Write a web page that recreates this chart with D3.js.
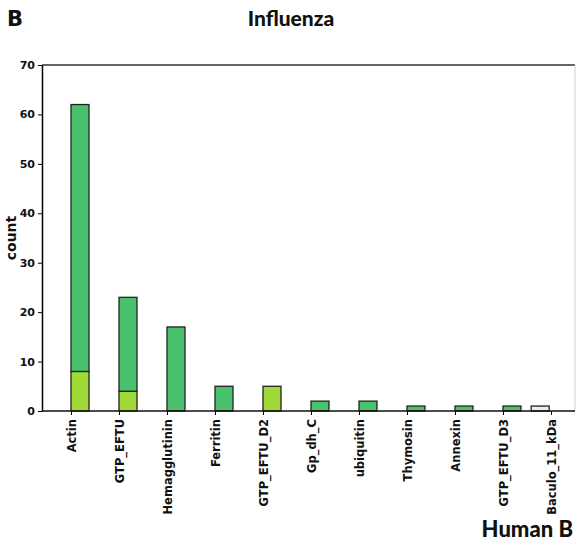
<!DOCTYPE html>
<html>
<head>
<meta charset="utf-8">
<script src="https://cdn.jsdelivr.net/npm/d3@7"></script>
<style>
  body { margin: 0; background: white; }
  svg text { fill: #111; }
</style>
</head>
<body>
<div id="chart"></div>
<script>
// categories along x
const categories = ["Actin", "GTP_EFTU", "Hemagglutinin", "Ferritin", "GTP_EFTU_D2",
    "Gp_dh_C", "ubiquitin", "Thymosin", "Annexin", "GTP_EFTU_D3", "Baculo_11_kDa"];
// stacked series, bottom to top
const lightValues = [8, 4, 0, 0, 5, 0, 0, 0, 0, 0, 0];
const greenValues = [54, 19, 17, 5, 0, 2, 2, 1, 1, 1, 0];
const otherValues = [0, 0, 0, 0, 0, 0, 0, 0, 0, 0, 1];
const yTicks = [0, 10, 20, 30, 40, 50, 60, 70];

const width = 576, height = 544;
const margin = {left: 42, right: 1, top: 65, bottom: 133};

const series = [
    {name: "light", vals: lightValues, color: "#a0da39", shift: 0},
    {name: "green", vals: greenValues, color: "#4ac16d", shift: 0},
    {name: "other", vals: otherValues, color: "#ededed", shift: -1.1}
];

const svg = d3.select("#chart").append("svg")
    .attr("width", width).attr("height", height);

const x = d3.scalePoint()
    .domain(categories)
    .range([71, 551]);
const barW = 18;

const y = d3.scaleLinear()
    .domain([0, 70])
    .range([height - margin.bottom, margin.top]);

// stacking by hand so each series keeps its own offset
const base = categories.map(() => 0);
series.forEach(s => {
    svg.append("g").selectAll("rect")
        .data(s.vals.map((v, i) => ({cat: categories[i], v, y0: base[i]})))
        .join("rect")
        .filter(d => d.v > 0)
        .attr("x", d => x(d.cat) + s.shift * barW)
        .attr("y", d => y(d.y0 + d.v))
        .attr("width", barW)
        .attr("height", d => y(d.y0) - y(d.y0 + d.v))
        .attr("fill", s.color)
        .attr("stroke", "#222")
        .attr("stroke-width", 1.3);
    s.vals.forEach((v, i) => base[i] += v);
});

// frame
svg.append("line")
    .attr("x1", margin.left).attr("x2", width - margin.right)
    .attr("y1", margin.top).attr("y2", margin.top)
    .attr("stroke", "#333").attr("stroke-width", 1.5);
svg.append("line")
    .attr("x1", width - margin.right).attr("x2", width - margin.right)
    .attr("y1", margin.top).attr("y2", height - margin.bottom)
    .attr("stroke", "#ccc").attr("stroke-width", 1);

const xAxis = svg.append("g")
    .attr("transform", `translate(0,${height - margin.bottom})`)
    .call(d3.axisBottom(x).tickSize(4).tickPadding(5).tickSizeOuter(0));
xAxis.select(".domain").remove();
xAxis.append("line")
    .attr("x1", margin.left).attr("x2", width - margin.right)
    .attr("stroke", "#111").attr("stroke-width", 1.5);
xAxis.selectAll("text")
    .attr("transform", "rotate(-90)")
    .attr("text-anchor", "end")
    .attr("dx", 0).attr("dy", "0.35em")
    .attr("x", -8).attr("y", 0)
    .style("font-family", "DejaVu Sans").style("font-weight", "bold")
    .style("font-size", "11.5px");

const yAxis = svg.append("g")
    .attr("transform", `translate(${margin.left},0)`)
    .call(d3.axisLeft(y).tickValues(yTicks).tickSize(4).tickPadding(3).tickSizeOuter(0));
yAxis.select(".domain").attr("stroke-width", 1.5);
yAxis.selectAll("text")
    .style("font-family", "DejaVu Sans").style("font-weight", "bold")
    .style("font-size", "11px");

svg.append("text")
    .attr("transform", `translate(11,${(margin.top + height - margin.bottom) / 2}) rotate(-90)`)
    .attr("text-anchor", "middle")
    .attr("dy", "0.35em")
    .style("font-family", "DejaVu Sans").style("font-weight", "bold")
    .style("font-size", "14px")
    .text("count");

svg.append("text")
    .attr("x", 291).attr("y", 26)
    .attr("text-anchor", "middle")
    .style("font-family", "Lato").style("font-weight", "900")
    .style("font-size", "21px")
    .text("Influenza");

svg.append("text")
    .attr("x", 7).attr("y", 26)
    .style("font-family", "DejaVu Sans").style("font-weight", "bold")
    .style("font-size", "21px")
    .text("B");

svg.append("text")
    .attr("x", 573).attr("y", 537)
    .attr("text-anchor", "end")
    .style("font-family", "Lato").style("font-weight", "900")
    .style("font-size", "22px")
    .text("Human B");
</script>
</body>
</html>
